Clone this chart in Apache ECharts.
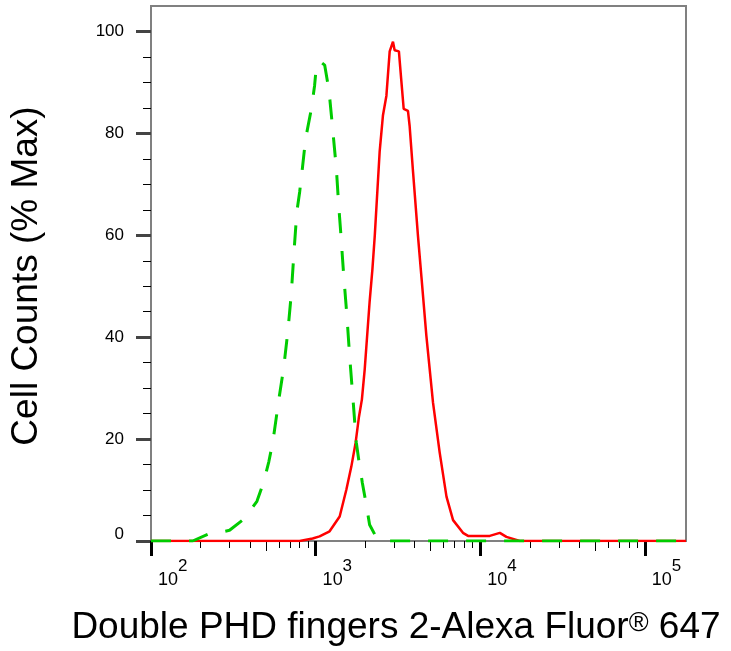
<!DOCTYPE html>
<html>
<head>
    <meta charset="UTF-8">
    <title>Double PHD fingers 2 - flow histogram</title>
    <script src="https://cdn.jsdelivr.net/npm/echarts@6/dist/echarts.min.js"></script>
</head>
<body style="margin:0; background:#fff;">
<div id="main" style="width:731px; height:651px;"></div>
<script>
    // fluorescence intensity (linear units) -> cell counts (% of max)
    var redX = [100, 800, 959, 1057, 1216, 1400, 1538, 1648, 1750, 1834, 1911, 1986, 2128, 2213, 2286,
        2449, 2564, 2692, 2818, 2951, 3020, 3206, 3319, 3428, 3639, 3724, 3908, 4188, 4395, 4710,
        5164, 5675, 6237, 6839, 7852, 8433, 11429, 13152, 14421, 17378, 177828];
    var redY = [0, 0, 0.5, 0.9, 1.9, 4.8, 10.1, 14.6, 19.3, 24.4, 27.8, 33.6, 46.9, 53.3, 59.8,
        76.4, 83.5, 87.4, 96.1, 98.0, 96.3, 96.1, 90.2, 84.8, 84.4, 81.5, 72.4, 59.8, 51.8, 40.2,
        27.2, 17.3, 8.7, 4.1, 1.6, 1.0, 1.0, 1.6, 0.8, 0, 0];

    // isotype control
    var greenX = [100, 179, 221, 261, 300, 370, 440, 485, 520, 550, 598, 640, 680, 711, 740, 769,
        800, 830, 870, 942, 986, 1009, 1057, 1135, 1205, 1260, 1337, 1380, 1419, 1479, 1549, 1611,
        1687, 1766, 1832, 1923, 2014, 2128, 2286, 2449, 2630, 177828];
    var greenY = [0, 0, 1.3, 1.7, 2.1, 4.4, 7.8, 11.7, 15.6, 19.5, 27.8, 34, 41.5, 48.4, 57, 64.6,
        68.5, 73, 79, 84.8, 89.4, 93, 94.2, 93.4, 88.5, 82, 73, 66, 60.8, 52.4, 44.2, 36.1,
        27.8, 19.4, 15.7, 11.4, 7.8, 3.2, 1.3, 0.3, 0, 0];

    // axis ticks
    var xMajorTicks = [100, 1000, 10000, 100000];
    var xMidTicks = [500, 5000, 50000];
    var xMinorTicks = [200, 300, 400, 600, 700, 800, 900,
        2000, 3000, 4000, 6000, 7000, 8000, 9000,
        20000, 30000, 40000, 60000, 70000, 80000, 90000];
    var yMajorTicks = [0, 20, 40, 60, 80, 100];
    var yMinorTicks = [5, 10, 15, 25, 30, 35, 45, 50, 55, 65, 70, 75, 85, 90, 95];

    var FONT = '"Liberation Sans", Arial, Helvetica, sans-serif';

    function toLog(arr) {
        return arr.map(function (v) { return Math.log10(v); });
    }
    function pairs(xs, ys) {
        return xs.map(function (x, i) { return [Math.log10(x), ys[i]]; });
    }

    // extra x axes on the same grid: one per tick length, one for the exponents
    function tickAxis(values, len, width, color) {
        return {
            type: 'value', min: 2, max: 5.25, position: 'bottom',
            axisLine: {show: false},
            axisTick: {show: true, customValues: toLog(values), length: len, lineStyle: {color: color, width: width}},
            axisLabel: {show: false},
            splitLine: {show: false}
        };
    }

    var chart = echarts.init(document.getElementById('main'), null, {renderer: 'canvas'});
    var option = {
        animation: false,
        backgroundColor: '#fff',
        grid: {
            left: 151, right: 45, top: 6, bottom: 110,
            show: true, borderColor: '#808080', borderWidth: 2
        },
        xAxis: [
            {
                type: 'value', min: 2, max: 5.25, position: 'bottom',
                axisLine: {show: true, lineStyle: {color: '#808080', width: 2}},
                axisTick: {show: true, customValues: toLog(xMajorTicks), length: 15, lineStyle: {color: '#000', width: 3}},
                axisLabel: {
                    customValues: toLog(xMajorTicks),
                    margin: 30,
                    align: 'left',
                    padding: [0, 0, 0, 7],
                    color: '#000',
                    fontSize: 18,
                    lineHeight: 18,
                    fontFamily: FONT,
                    formatter: function () { return '10'; }
                },
                splitLine: {show: false}
            },
            tickAxis(xMidTicks, 10, 1, '#000'),
            tickAxis(xMinorTicks, 7, 1, '#000'),
            {
                type: 'value', min: 2, max: 5.25, position: 'bottom',
                axisLine: {show: false},
                axisTick: {show: false},
                axisLabel: {
                    customValues: toLog(xMajorTicks),
                    margin: 17,
                    align: 'left',
                    padding: [0, 0, 0, 27],
                    color: '#000',
                    fontSize: 17,
                    lineHeight: 17,
                    fontFamily: FONT,
                    formatter: function (v) { return String(Math.round(v)); }
                },
                splitLine: {show: false}
            }
        ],
        yAxis: [
            {
                type: 'value', min: 0, max: 105, position: 'left',
                axisLine: {show: true, lineStyle: {color: '#808080', width: 2}},
                axisTick: {show: true, customValues: yMajorTicks, length: 15, lineStyle: {color: '#444', width: 3}},
                axisLabel: {
                    customValues: yMajorTicks,
                    margin: 27,
                    color: '#000',
                    fontSize: 17,
                    fontFamily: FONT,
                    formatter: function (v) {
                        return v === 0 ? '{z|0}' : String(v);
                    },
                    rich: {
                        z: {fontSize: 17, fontFamily: FONT, color: '#000', padding: [0, 0, 14, 0]}
                    }
                },
                splitLine: {show: false}
            },
            {
                type: 'value', min: 0, max: 105, position: 'left',
                axisLine: {show: false},
                axisTick: {show: true, customValues: yMinorTicks, length: 8, lineStyle: {color: '#000', width: 1}},
                axisLabel: {show: false},
                splitLine: {show: false}
            }
        ],
        graphic: [
            {
                type: 'text', x: 27, y: 276, rotation: Math.PI / 2,
                style: {
                    text: 'Cell Counts (% Max)',
                    font: '37px ' + FONT,
                    fill: '#000',
                    align: 'center', verticalAlign: 'middle'
                }
            },
            {
                type: 'text', x: 396, y: 606,
                style: {
                    text: '{m|Double PHD fingers 2-Alexa Fluor}{r|®}{m| 647}',
                    fill: '#000',
                    align: 'center', verticalAlign: 'top',
                    rich: {
                        m: {fontSize: 37, fontFamily: FONT, fill: '#000', lineHeight: 40, verticalAlign: 'bottom'},
                        r: {fontSize: 27, fontFamily: FONT, fill: '#000', lineHeight: 27, verticalAlign: 'bottom', padding: [0, 0, 9, 0]}
                    }
                }
            }
        ],
        series: [
            {
                name: 'Double PHD fingers 2',
                type: 'line',
                xAxisIndex: 0, yAxisIndex: 0,
                data: pairs(redX, redY),
                showSymbol: false,
                smooth: false,
                lineStyle: {color: '#ff0000', width: 2.5},
                itemStyle: {color: '#ff0000'}
            },
            {
                name: 'Isotype control',
                type: 'line',
                xAxisIndex: 0, yAxisIndex: 0,
                data: pairs(greenX, greenY),
                showSymbol: false,
                smooth: false,
                lineStyle: {color: '#00cc00', width: 3, type: [20, 18]},
                itemStyle: {color: '#00cc00'}
            }
        ]
    };
    chart.setOption(option);
</script>
</body>
</html>
